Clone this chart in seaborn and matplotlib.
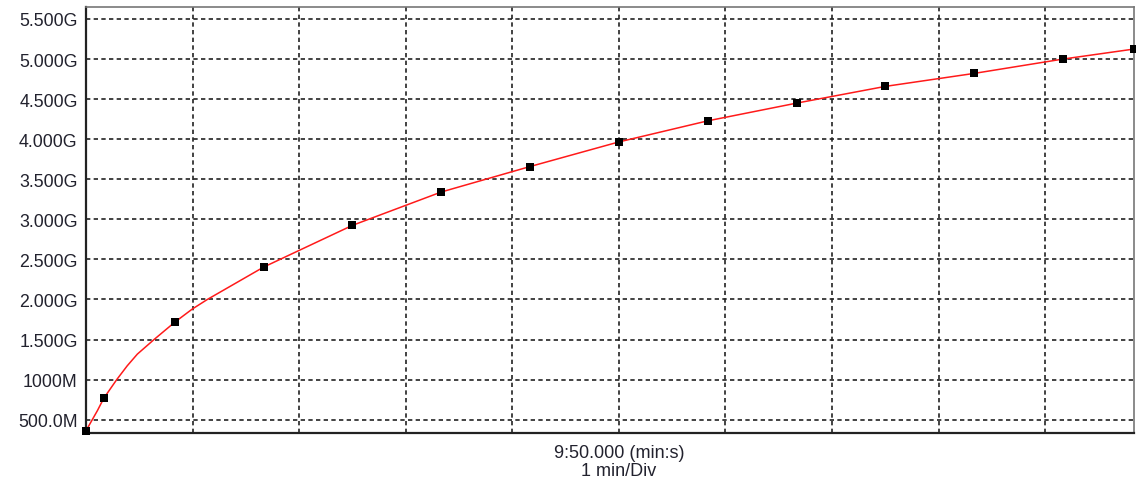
import matplotlib
matplotlib.use("Agg")
import matplotlib.pyplot as plt
import matplotlib.transforms as mtransforms
import seaborn as sns
import numpy as np
import pandas as pd

# sample times (s after 4:50) and values (M)
marker_t = [0, 10, 50, 100, 150, 200, 250, 300, 350, 400, 450, 500, 550, 590]
marker_v = [362, 767, 1717, 2404, 2925, 3341, 3659, 3966, 4229, 4450, 4659, 4821, 5000, 5125]

# extra points read along the red curve where it bends most
curve_t = [6.4, 17.3, 23.2, 28.9, 38.3, 59.8, 68.3]
curve_v = [612, 1000, 1172, 1318, 1500, 1880, 2000]

ytick_vals = [500, 1000, 1500, 2000, 2500, 3000, 3500, 4000, 4500, 5000, 5500]
ytick_labels = ["500.0M", "1000M", "1.500G", "2.000G", "2.500G", "3.000G",
                "3.500G", "4.000G", "4.500G", "5.000G", "5.500G"]
xgrid = [60, 120, 180, 240, 300, 360, 420, 480, 540]

markers = pd.DataFrame({"t": marker_t, "v": marker_v})
curve = pd.concat([markers, pd.DataFrame({"t": curve_t, "v": curve_v})]).sort_values("t")

sns.set_style("white")
plt.rcParams["font.family"] = ["Liberation Sans", "DejaVu Sans"]

fig = plt.figure(figsize=(11.36, 4.89), dpi=100)
ax = fig.add_axes([86 / 1136, 1 - 434.3 / 489, 1048 / 1136, 426 / 489])

sns.lineplot(data=curve, x="t", y="v", ax=ax, color="#ff1a1a", linewidth=1.1,
             sort=False, zorder=3)
sns.scatterplot(data=markers, x="t", y="v", ax=ax, marker="s", s=34,
                color="black", edgecolor="black", linewidth=0, zorder=4, clip_on=False)

ax.set_xlim(0, 590)
ax.set_ylim(330, 5646)
ax.set_yticks(ytick_vals)
ax.set_yticklabels(ytick_labels)
ax.set_xticks(xgrid)
ax.set_xticklabels([])
ax.tick_params(axis="both", length=0, pad=6, labelsize=12.8, labelcolor="#22222e")
ax.set_xlabel("")
ax.set_ylabel("")

ax.grid(True, color="#222222", linestyle=(0, (2.6, 2.0)), linewidth=1.2)

for side in ["left", "bottom"]:
    ax.spines[side].set_color("#222222")
    ax.spines[side].set_linewidth(1.6)
for side in ["top", "right"]:
    ax.spines[side].set_color("#777777")
    ax.spines[side].set_linewidth(1.2)

tr = mtransforms.blended_transform_factory(ax.transData, fig.transFigure)
ax.text(300, 1 - 454 / 489, "9:50.000 (min:s)", transform=tr, ha="center", va="center",
        fontsize=13, color="#22222e")
ax.text(300, 1 - 472 / 489, "1 min/Div", transform=tr, ha="center", va="center",
        fontsize=13, color="#22222e")

fig.savefig("out.png", dpi=100)
